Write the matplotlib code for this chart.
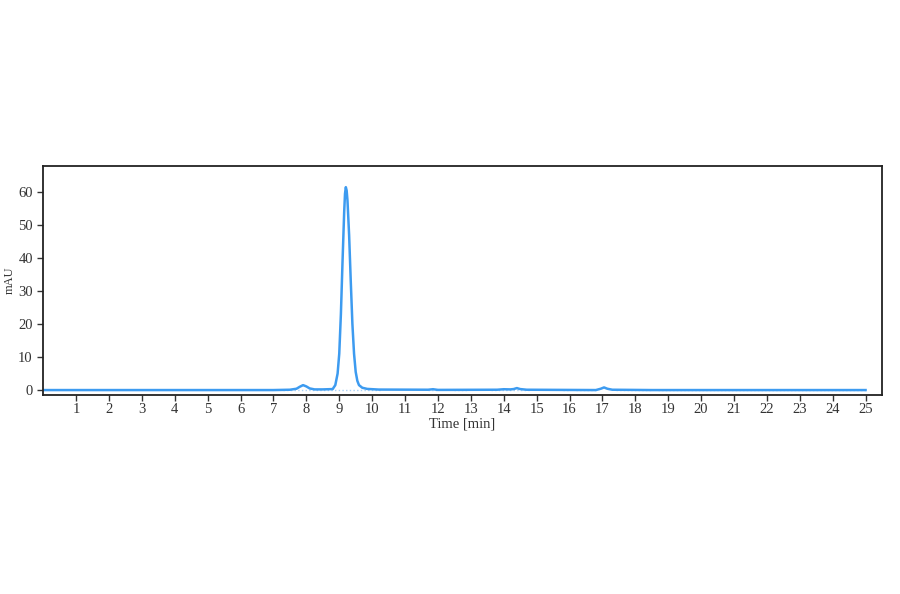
import matplotlib.pyplot as plt

# chromatogram trace
time_min = [0.0, 7.0, 7.5, 7.7, 7.8, 7.9, 8.0, 8.1, 8.25, 8.5, 8.8, 8.88, 8.95,
            9.0, 9.05, 9.1, 9.15, 9.175, 9.2, 9.225, 9.25, 9.3, 9.35, 9.4, 9.45,
            9.5, 9.55, 9.6, 9.7, 9.85, 10.2, 11.7, 11.85, 12.0, 13.8, 14.0,
            14.2, 14.3, 14.4, 14.5, 14.7, 16.8, 16.95, 17.05, 17.15, 17.3,
            18.5, 25.0]
mau = [0.0, 0.0, 0.1, 0.4, 1.0, 1.5, 1.1, 0.5, 0.2, 0.2, 0.3, 1.5, 5.0,
       11.0, 23.0, 39.0, 54.0, 59.5, 61.5, 60.5, 57.5, 47.0, 33.0, 20.0, 11.0,
       5.5, 2.8, 1.5, 0.7, 0.35, 0.15, 0.1, 0.25, 0.05, 0.1, 0.25,
       0.2, 0.3, 0.6, 0.3, 0.1, 0.0, 0.4, 0.8, 0.4, 0.1,
       0.0, 0.0]

# integration baselines (dotted)
base_start = [7.3, 11.7, 12.5, 13.6, 15.8, 16.2, 17.4, 18.7]
base_end = [10.3, 12.0, 12.9, 14.8, 16.0, 16.8, 18.5, 25.0]

xticks = list(range(1, 26))
yticks = [0, 10, 20, 30, 40, 50, 60]

plt.rcParams['font.family'] = ['Liberation Serif', 'DejaVu Serif']

fig = plt.figure(figsize=(9, 5.94), dpi=100)
ax = fig.add_axes([0.048, 0.335, 0.932, 0.386])

color = "#3d9bf0"
for s, e in zip(base_start, base_end):
    ax.plot([s, e], [0, 0], linestyle=":", color="#a9d0f5", linewidth=1)
ax.plot(time_min, mau, color=color, linewidth=1.8)

ax.set_xlim(0, 25.5)
ax.set_ylim(-1.5, 68)
ax.set_xticks(xticks)
ax.set_yticks(yticks)
ax.tick_params(direction="out", length=4, width=1, labelsize=10.5, colors="#333333")
ax.tick_params(axis="x", pad=2)
for sp in ax.spines.values():
    sp.set_linewidth(1.3)
    sp.set_color("#222222")

ax.set_xlabel("Time [min]", fontsize=10.5, color="#333333", labelpad=1)
ax.set_ylabel("mAU", fontsize=9, color="#333333")
ax.yaxis.set_label_coords(-0.033, 0.5)

fig.savefig("out.png", dpi=100)
